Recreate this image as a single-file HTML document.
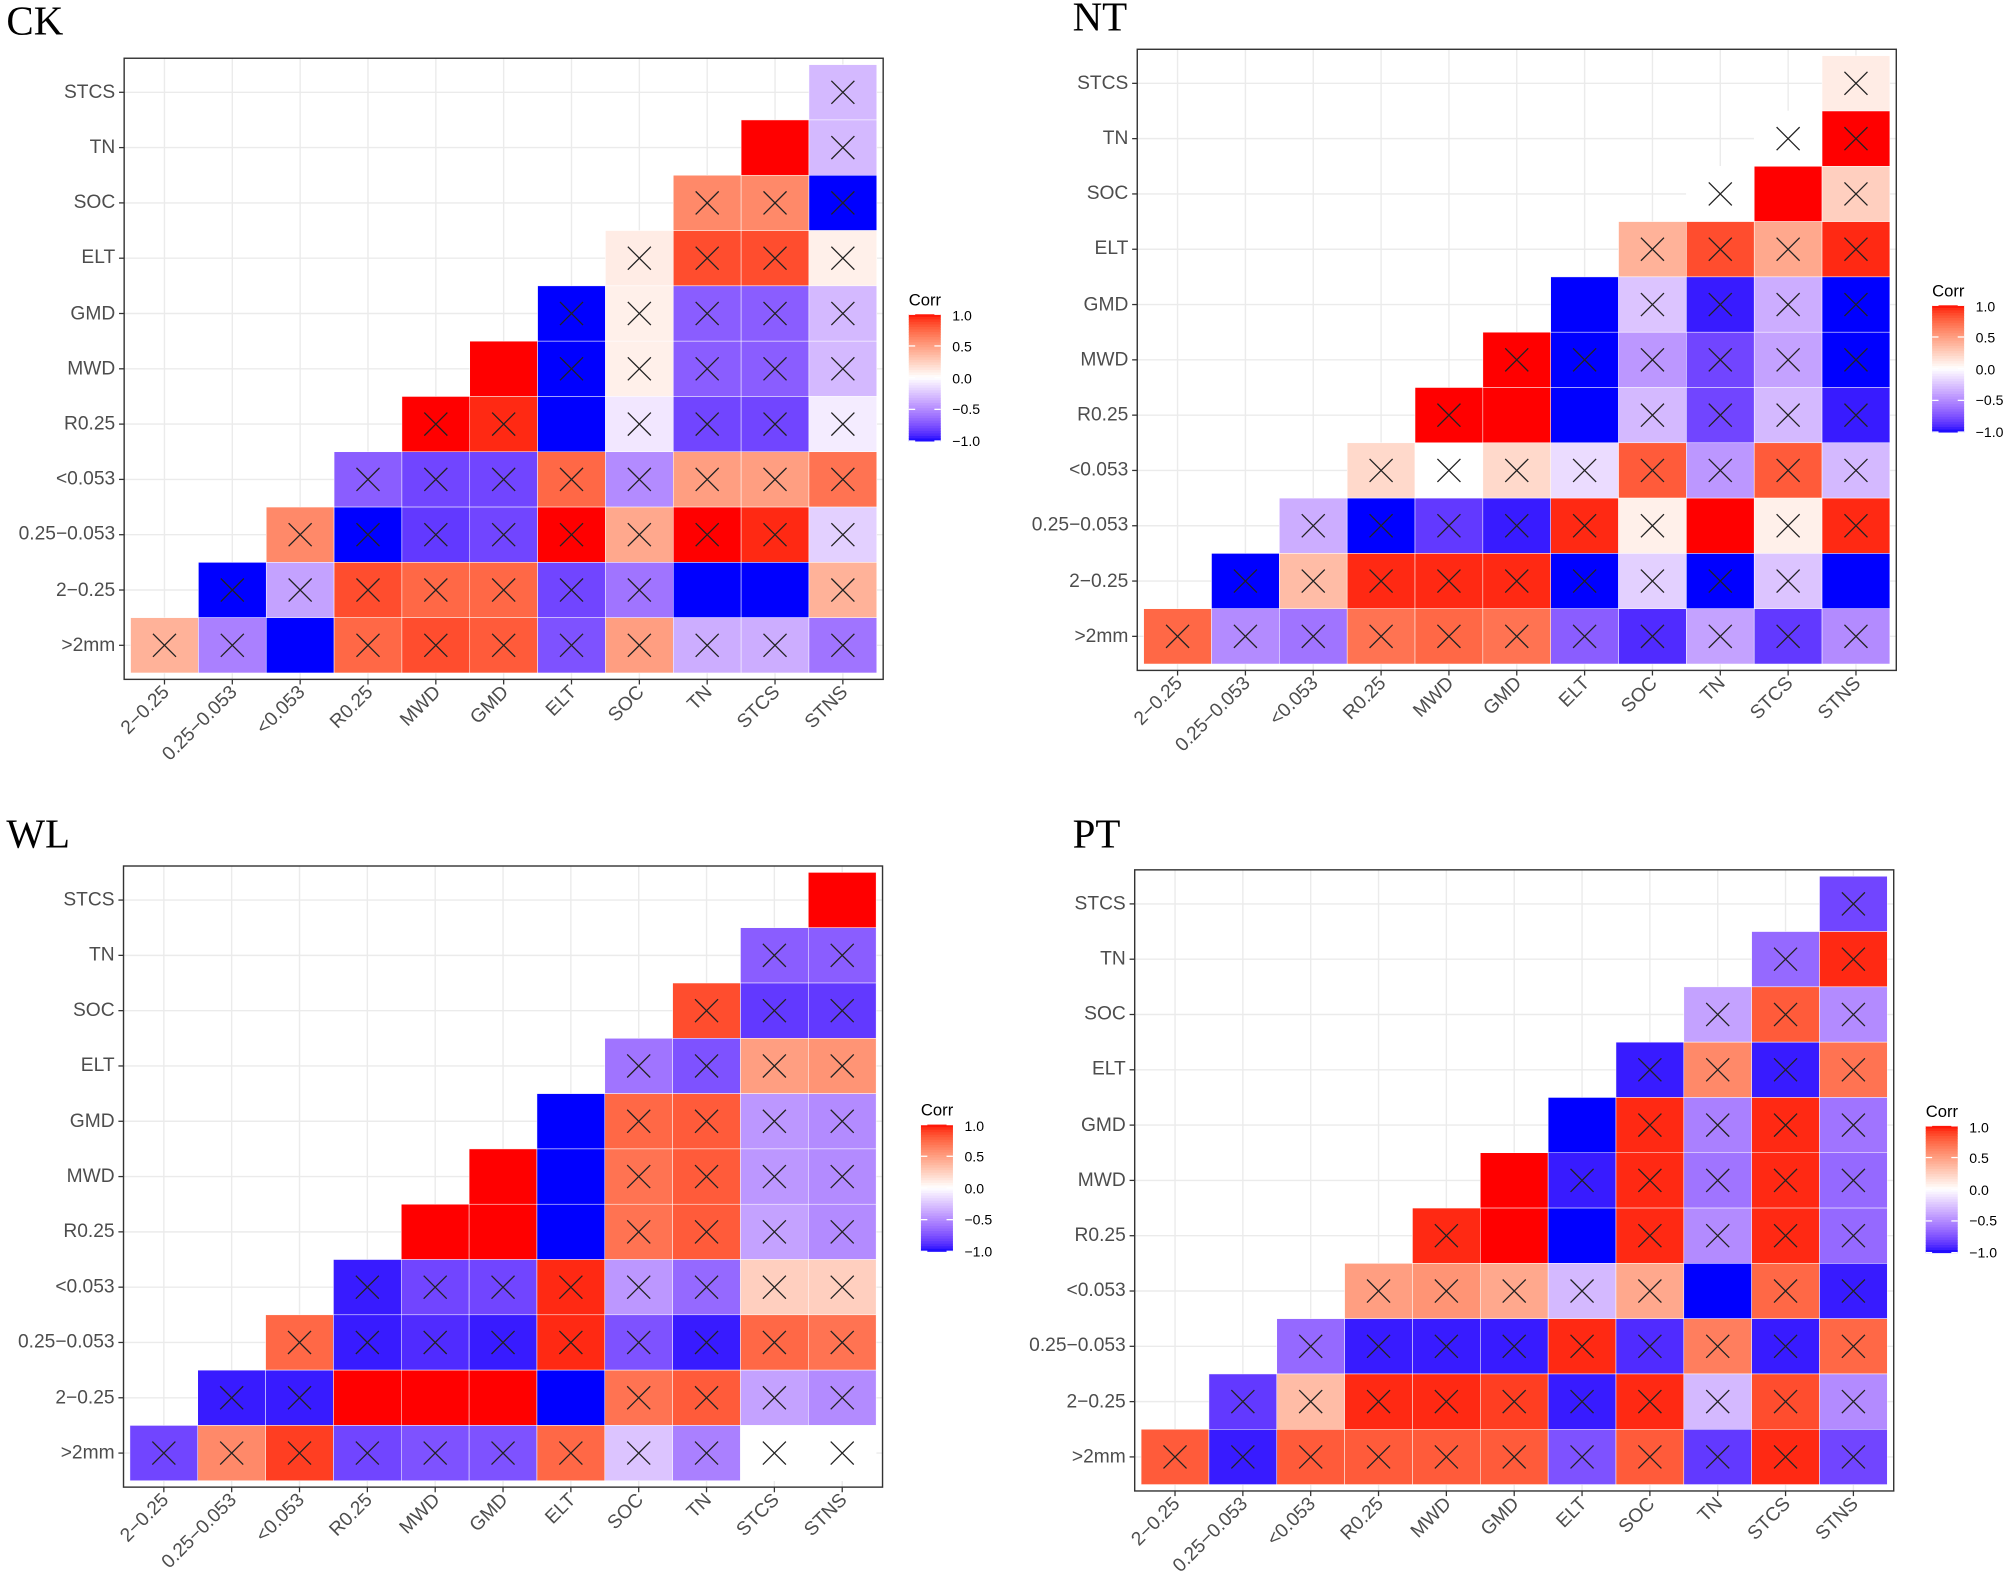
<!DOCTYPE html>
<html><head><meta charset="utf-8"><style>
html,body{margin:0;padding:0;background:#fff;}
svg{display:block;}
.yl{font-family:"Liberation Sans",sans-serif;font-size:15px;fill:#4d4d4d;text-anchor:end;}
.xl{font-family:"Liberation Sans",sans-serif;font-size:15px;fill:#4d4d4d;text-anchor:end;}
.tt{font-family:"Liberation Serif",serif;font-size:32px;fill:#000;}
.lg{font-family:"Liberation Sans",sans-serif;font-size:13px;fill:#000;}
.lt{font-family:"Liberation Sans",sans-serif;font-size:11px;fill:#000;}
</style></head><body>
<svg id="s" width="2007" height="1572" viewBox="0 0 1568 1228" preserveAspectRatio="none" xmlns="http://www.w3.org/2000/svg">
<rect width="1568" height="1228" fill="#fff"/>
<text class="tt" x="5" y="27">CK</text>
<text class="tt" x="838" y="24">NT</text>
<text class="tt" x="5" y="662">WL</text>
<text class="tt" x="838" y="662">PT</text>

<g id="p0" transform="translate(102,50.5)"></g>
<g id="p1" transform="translate(893.5,43.5)"></g>
<g id="p2" transform="translate(101.5,681.5)"></g>
<g id="p3" transform="translate(891.5,684.5)"></g>

<g id="labels">
<g transform="translate(102,50.5)">
<text class="yl" x="-12" y="26">STCS</text><text class="yl" x="-12" y="69">TN</text><text class="yl" x="-12" y="112">SOC</text><text class="yl" x="-12" y="155">ELT</text><text class="yl" x="-12" y="199">GMD</text><text class="yl" x="-12" y="242">MWD</text><text class="yl" x="-12" y="285">R0.25</text><text class="yl" x="-12" y="328">&lt;0.053</text><text class="yl" x="-12" y="371">0.25−0.053</text><text class="yl" x="-12" y="415">2−0.25</text><text class="yl" x="-12" y="458">&gt;2mm</text>
<text class="xl" transform="translate(31,491) rotate(-45)">2−0.25</text><text class="xl" transform="translate(84,491) rotate(-45)">0.25−0.053</text><text class="xl" transform="translate(137,491) rotate(-45)">&lt;0.053</text><text class="xl" transform="translate(190,491) rotate(-45)">R0.25</text><text class="xl" transform="translate(243,491) rotate(-45)">MWD</text><text class="xl" transform="translate(296,491) rotate(-45)">GMD</text><text class="xl" transform="translate(349,491) rotate(-45)">ELT</text><text class="xl" transform="translate(402,491) rotate(-45)">SOC</text><text class="xl" transform="translate(455,491) rotate(-45)">TN</text><text class="xl" transform="translate(508,491) rotate(-45)">STCS</text><text class="xl" transform="translate(561,491) rotate(-45)">STNS</text>
<text class="lg" x="608" y="188">Corr</text><text class="lt" x="642" y="200">1.0</text><text class="lt" x="642" y="224">0.5</text><text class="lt" x="642" y="249">0.0</text><text class="lt" x="642" y="273">−0.5</text><text class="lt" x="642" y="298">−1.0</text>
</g>
<g transform="translate(893.5,43.5)">
<text class="yl" x="-12" y="26">STCS</text><text class="yl" x="-12" y="69">TN</text><text class="yl" x="-12" y="112">SOC</text><text class="yl" x="-12" y="155">ELT</text><text class="yl" x="-12" y="199">GMD</text><text class="yl" x="-12" y="242">MWD</text><text class="yl" x="-12" y="285">R0.25</text><text class="yl" x="-12" y="328">&lt;0.053</text><text class="yl" x="-12" y="371">0.25−0.053</text><text class="yl" x="-12" y="415">2−0.25</text><text class="yl" x="-12" y="458">&gt;2mm</text>
<text class="xl" transform="translate(31,491) rotate(-45)">2−0.25</text><text class="xl" transform="translate(84,491) rotate(-45)">0.25−0.053</text><text class="xl" transform="translate(137,491) rotate(-45)">&lt;0.053</text><text class="xl" transform="translate(190,491) rotate(-45)">R0.25</text><text class="xl" transform="translate(243,491) rotate(-45)">MWD</text><text class="xl" transform="translate(296,491) rotate(-45)">GMD</text><text class="xl" transform="translate(349,491) rotate(-45)">ELT</text><text class="xl" transform="translate(402,491) rotate(-45)">SOC</text><text class="xl" transform="translate(455,491) rotate(-45)">TN</text><text class="xl" transform="translate(508,491) rotate(-45)">STCS</text><text class="xl" transform="translate(561,491) rotate(-45)">STNS</text>
<text class="lg" x="616" y="188">Corr</text><text class="lt" x="650" y="200">1.0</text><text class="lt" x="650" y="224">0.5</text><text class="lt" x="650" y="249">0.0</text><text class="lt" x="650" y="273">−0.5</text><text class="lt" x="650" y="298">−1.0</text>
</g>
<g transform="translate(101.5,681.5)">
<text class="yl" x="-12" y="26">STCS</text><text class="yl" x="-12" y="69">TN</text><text class="yl" x="-12" y="112">SOC</text><text class="yl" x="-12" y="155">ELT</text><text class="yl" x="-12" y="199">GMD</text><text class="yl" x="-12" y="242">MWD</text><text class="yl" x="-12" y="285">R0.25</text><text class="yl" x="-12" y="328">&lt;0.053</text><text class="yl" x="-12" y="371">0.25−0.053</text><text class="yl" x="-12" y="415">2−0.25</text><text class="yl" x="-12" y="458">&gt;2mm</text>
<text class="xl" transform="translate(31,491) rotate(-45)">2−0.25</text><text class="xl" transform="translate(84,491) rotate(-45)">0.25−0.053</text><text class="xl" transform="translate(137,491) rotate(-45)">&lt;0.053</text><text class="xl" transform="translate(190,491) rotate(-45)">R0.25</text><text class="xl" transform="translate(243,491) rotate(-45)">MWD</text><text class="xl" transform="translate(296,491) rotate(-45)">GMD</text><text class="xl" transform="translate(349,491) rotate(-45)">ELT</text><text class="xl" transform="translate(402,491) rotate(-45)">SOC</text><text class="xl" transform="translate(455,491) rotate(-45)">TN</text><text class="xl" transform="translate(508,491) rotate(-45)">STCS</text><text class="xl" transform="translate(561,491) rotate(-45)">STNS</text>
<text class="lg" x="618" y="190">Corr</text><text class="lt" x="652" y="202">1.0</text><text class="lt" x="652" y="226">0.5</text><text class="lt" x="652" y="251">0.0</text><text class="lt" x="652" y="275">−0.5</text><text class="lt" x="652" y="300">−1.0</text>
</g>
<g transform="translate(891.5,684.5)">
<text class="yl" x="-12" y="26">STCS</text><text class="yl" x="-12" y="69">TN</text><text class="yl" x="-12" y="112">SOC</text><text class="yl" x="-12" y="155">ELT</text><text class="yl" x="-12" y="199">GMD</text><text class="yl" x="-12" y="242">MWD</text><text class="yl" x="-12" y="285">R0.25</text><text class="yl" x="-12" y="328">&lt;0.053</text><text class="yl" x="-12" y="371">0.25−0.053</text><text class="yl" x="-12" y="415">2−0.25</text><text class="yl" x="-12" y="458">&gt;2mm</text>
<text class="xl" transform="translate(31,491) rotate(-45)">2−0.25</text><text class="xl" transform="translate(84,491) rotate(-45)">0.25−0.053</text><text class="xl" transform="translate(137,491) rotate(-45)">&lt;0.053</text><text class="xl" transform="translate(190,491) rotate(-45)">R0.25</text><text class="xl" transform="translate(243,491) rotate(-45)">MWD</text><text class="xl" transform="translate(296,491) rotate(-45)">GMD</text><text class="xl" transform="translate(349,491) rotate(-45)">ELT</text><text class="xl" transform="translate(402,491) rotate(-45)">SOC</text><text class="xl" transform="translate(455,491) rotate(-45)">TN</text><text class="xl" transform="translate(508,491) rotate(-45)">STCS</text><text class="xl" transform="translate(561,491) rotate(-45)">STNS</text>
<text class="lg" x="613" y="188">Corr</text><text class="lt" x="647" y="200">1.0</text><text class="lt" x="647" y="224">0.5</text><text class="lt" x="647" y="249">0.0</text><text class="lt" x="647" y="273">−0.5</text><text class="lt" x="647" y="298">−1.0</text>
</g>
</g>
</svg>
<script>
(function(){
var NS="http://www.w3.org/2000/svg";
function toLin(c){c/=255;return c<=0.04045?c/12.92:Math.pow((c+0.055)/1.055,2.4);}
function f(t){return t>0.008856?Math.cbrt(t):7.787*t+16/116;}
function rgb2lab(c){var r=toLin(c[0]),g=toLin(c[1]),b=toLin(c[2]);
var x=f((r*0.4124+g*0.3576+b*0.1805)/0.95047),y=f(r*0.2126+g*0.7152+b*0.0722),z=f((r*0.0193+g*0.1192+b*0.9505)/1.08883);
return[116*y-16,500*(x-y),200*(y-z)];}
function finv(t){var t3=t*t*t;return t3>0.008856?t3:(t-16/116)/7.787;}
function gam(c){c=c<=0.0031308?12.92*c:1.055*Math.pow(c,1/2.4)-0.055;return Math.max(0,Math.min(255,Math.round(c*255)));}
function lab2rgb(l){var fy=(l[0]+16)/116,fx=l[1]/500+fy,fz=fy-l[2]/200;
var X=0.95047*finv(fx),Y=finv(fy),Z=1.08883*finv(fz);
return"rgb("+gam(3.2406*X-1.5372*Y-0.4986*Z)+","+gam(-0.9689*X+1.8758*Y+0.0415*Z)+","+gam(0.0557*X-0.2040*Y+1.0570*Z)+")";}
var W=rgb2lab([255,255,255]),R=rgb2lab([255,0,0]),B=rgb2lab([0,0,255]);
function col(v){var e=v>=0?R:B,t=Math.abs(v);return lab2rgb([W[0]+(e[0]-W[0])*t,W[1]+(e[1]-W[1])*t,W[2]+(e[2]-W[2])*t]);}
function el(n,a,p){var e=document.createElementNS(NS,n);for(var k in a)e.setAttribute(k,a[k]);p.appendChild(e);return e;}
var D=[
["-0.3x","1 -0.3x","0.6x 0.6x -1x","0.1x 0.85x 0.85x 0.08x","-1x 0.08x -0.7x -0.7x -0.3x","1 -1x 0.08x -0.7x -0.7x -0.3x","1x 0.95x -1 -0.1x -0.8x -0.8x -0.08x","-0.7x -0.8x -0.8x 0.75x -0.5x 0.5x 0.5x 0.7x","0.6x -1x -0.85x -0.8x 1x 0.45x 1x 0.95x -0.2x","-1x -0.4x 0.85x 0.75x 0.75x -0.8x -0.6x -1 -1 0.4x","0.4x -0.55x -1 0.75x 0.85x 0.8x -0.75x 0.5x -0.35x -0.35x -0.6x"],
["0.1x","0x 1x","0x 1 0.25x","0.4x 0.85x 0.45x 0.95x","-1 -0.25x -0.95x -0.35x -1x","1x -1x -0.45x -0.8x -0.4x -1x","1x 1 -1 -0.3x -0.8x -0.3x -0.95x","0.2x 0x 0.2x -0.15x 0.8x -0.45x 0.8x -0.3x","-0.35x -1x -0.85x -0.95x 0.95x 0.08x 1 0.08x 0.95x","-1x 0.35x 0.95x 0.95x 0.95x -1x -0.2x -1x -0.25x -1","0.75x -0.5x -0.6x 0.7x 0.75x 0.7x -0.7x -0.9x -0.4x -0.85x -0.5x"],
["1","-0.7x -0.7x","0.85x -0.85x -0.85x","-0.6x -0.75x 0.5x 0.55x","-1 0.75x 0.8x -0.45x -0.5x","1 -1 0.7x 0.8x -0.45x -0.5x","1 1 -1 0.7x 0.8x -0.4x -0.5x","-0.95x -0.8x -0.8x 0.95x -0.45x -0.65x 0.25x 0.25x","0.75x -0.95x -0.9x -0.95x 0.95x -0.75x -0.95x 0.75x 0.7x","-0.95x -0.95x 1 1 1 -1 0.7x 0.8x -0.4x -0.5x","-0.8x 0.6x 0.9x -0.8x -0.75x -0.75x 0.75x -0.25x -0.55x 0x 0x"],
["-0.8x","-0.65x 0.95x","-0.4x 0.8x -0.5x","-0.95x 0.6x -0.95x 0.7x","-1 0.95x -0.55x 0.95x -0.6x","1 -0.95x 0.95x -0.6x 0.95x -0.65x","0.95x 1 -1 0.95x -0.5x 0.95x -0.65x","0.5x 0.55x 0.45x -0.3x 0.45x -1 0.75x -0.95x","-0.65x -0.95x -0.95x -0.95x 0.95x -0.9x 0.65x -0.95x 0.75x","-0.85x 0.35x 0.95x 0.95x 0.9x -0.95x 0.95x -0.3x 0.85x -0.5x","0.8x -0.95x 0.8x 0.8x 0.8x 0.8x -0.75x 0.8x -0.85x 0.95x -0.8x"]];
var lx=[608,616,618,613],ly=[195,195,197,195];
var cw=53,ch=43.2;
for(var p=0;p<4;p++){
var g=document.getElementById("p"+p);
el("rect",{x:-5,y:-5,width:11*cw+10,height:11*ch+10,fill:"#fff"},g);
for(var i=0;i<11;i++){
el("line",{x1:-5,x2:11*cw+5,y1:i*ch+ch/2,y2:i*ch+ch/2,stroke:"#ebebeb","stroke-width":1.1},g);
el("line",{y1:-5,y2:11*ch+5,x1:i*cw+cw/2,x2:i*cw+cw/2,stroke:"#ebebeb","stroke-width":1.1},g);
el("line",{x1:-9,x2:-5,y1:i*ch+ch/2,y2:i*ch+ch/2,stroke:"#333","stroke-width":1},g);
el("line",{y1:11*ch+5,y2:11*ch+9,x1:i*cw+cw/2,x2:i*cw+cw/2,stroke:"#333","stroke-width":1},g);
}
for(var r=0;r<11;r++){
var t=D[p][r].split(" ");
for(var k=0;k<t.length;k++){
var c=10-r+k,s=t[k],x=s.indexOf("x")>=0,v=parseFloat(s);
var X=c*cw,Y=r*ch;
el("rect",{x:X,y:Y,width:cw,height:ch,fill:col(v),stroke:"#fff","stroke-width":0.4},g);
if(x){var cx=X+cw/2,cy=Y+ch/2,d=9;
el("path",{d:"M"+(cx-d)+" "+(cy-d)+"L"+(cx+d)+" "+(cy+d)+"M"+(cx-d)+" "+(cy+d)+"L"+(cx+d)+" "+(cy-d),stroke:"#222","stroke-width":1,fill:"none"},g);}
}}
el("rect",{x:-5,y:-5,width:11*cw+10,height:11*ch+10,fill:"none",stroke:"#333","stroke-width":1.1},g);
var n=50,h=99/n;
for(var j=0;j<n;j++){var v=1-2*(j+0.5)/n;el("rect",{x:lx[p],y:ly[p]+j*h,width:25,height:h+0.4,fill:col(v)},g);}
[0,0.25,0.5,0.75,1].forEach(function(q){var yy=ly[p]+q*99;
el("line",{x1:lx[p],x2:lx[p]+5,y1:yy,y2:yy,stroke:"#fff"},g);el("line",{x1:lx[p]+20,x2:lx[p]+25,y1:yy,y2:yy,stroke:"#fff"},g);});
}
})();
</script>
</body></html>
